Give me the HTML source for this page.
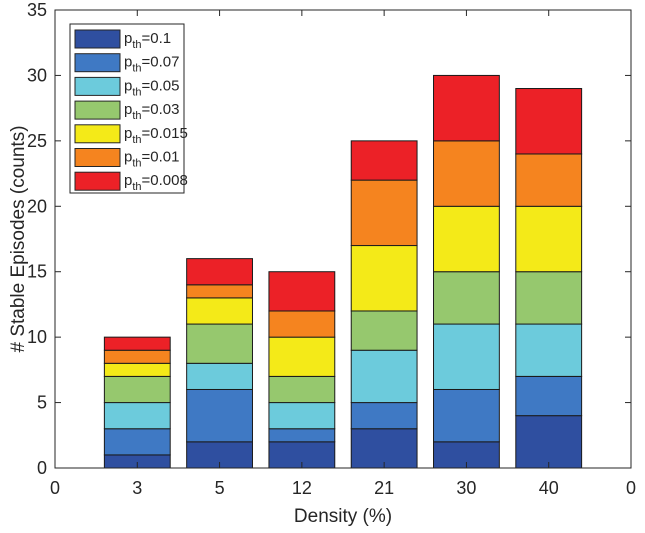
<!DOCTYPE html>
<html><head><meta charset="utf-8"><style>
body{margin:0;background:#fff;font-family:"Liberation Sans",sans-serif}
</style></head><body>
<svg id="chart" width="645" height="528" xmlns="http://www.w3.org/2000/svg" font-family="Liberation Sans, sans-serif"></svg>
<script>
const categories=["3","5","12","21","30","40"];
const s1=[1,2,2,3,2,4];
const s2=[2,4,1,2,4,3];
const s3=[2,2,2,4,5,4];
const s4=[2,3,2,3,4,4];
const s5=[1,2,3,5,5,5];
const s6=[1,1,2,5,5,4];
const s7=[1,2,3,3,5,5];
const seriesNames=["0.1","0.07","0.05","0.03","0.015","0.01","0.008"];
const colors=["#2f4fa0","#3f79c4","#6ccbdc","#96c86e","#f4ea18","#f5841f","#ec2127"];
const yTicks=[0,5,10,15,20,25,30,35];
const series=[s1,s2,s3,s4,s5,s6,s7];
const svg=document.getElementById('chart');
const NS="http://www.w3.org/2000/svg";
const L=55,R=631,T=10,B=468,yMax=35,nSlots=categories.length+1;
const xs=i=>L+(R-L)*i/nSlots;
const ys=v=>B-(B-T)*v/yMax;
function mk(tag,a,p){const e=document.createElementNS(NS,tag);for(const k in a)e.setAttribute(k,a[k]);(p||svg).appendChild(e);return e;}
const bw=(R-L)/nSlots*0.8;
categories.forEach((c,i)=>{
  let cum=0;
  series.forEach((s,j)=>{
    const r=mk('rect',{x:xs(i+1)-bw/2,y:ys(cum+s[i]),width:bw,height:ys(cum)-ys(cum+s[i]),fill:colors[j],stroke:"#1a1a1a","stroke-width":1});
    
    
    cum+=s[i];
  });
});
const ax=mk('rect',{x:L,y:T,width:R-L,height:B-T,fill:"none",stroke:"#262626","stroke-width":1});

const xl=["0",...categories,"0"];
xl.forEach((t,i)=>{
  mk('line',{x1:xs(i),x2:xs(i),y1:B,y2:B-6,stroke:"#262626"});
  mk('line',{x1:xs(i),x2:xs(i),y1:T,y2:T+6,stroke:"#262626"});
  const tx=mk('text',{x:xs(i),y:B+26,"text-anchor":"middle","font-size":18,fill:"#262626"});
  tx.textContent=t;
  
});
yTicks.forEach(v=>{
  mk('line',{x1:L,x2:L+6,y1:ys(v),y2:ys(v),stroke:"#262626"});
  mk('line',{x1:R,x2:R-6,y1:ys(v),y2:ys(v),stroke:"#262626"});
  const tx=mk('text',{x:L-8,y:ys(v)+6,"text-anchor":"end","font-size":18,fill:"#262626"});
  tx.textContent=v;
  
});
const xt=mk('text',{x:(L+R)/2,y:522,"text-anchor":"middle","font-size":19,fill:"#262626"});
xt.textContent="Density (%)";
const yt=mk('text',{x:0,y:0,transform:"translate(24,"+((T+B)/2)+") rotate(-90)","text-anchor":"middle","font-size":19,fill:"#262626"});
yt.textContent="# Stable Episodes (counts)";
const lg=mk('g',{});
mk('rect',{x:70,y:24,width:114,height:169,fill:"#fff",stroke:"#262626"},lg);
seriesNames.forEach((n,j)=>{
  const y=30+j*23.7;
  const g=mk('g',{},lg);
  
  mk('rect',{x:75,y:y,width:45,height:18,fill:colors[j],stroke:"#262626"},g);
  const t=mk('text',{x:124,y:y+13,"font-size":15,fill:"#262626"},g);
  t.innerHTML='p<tspan dy="5" font-size="11">th</tspan><tspan dy="-5">='+n+'</tspan>';
});
</script>
</body></html>
